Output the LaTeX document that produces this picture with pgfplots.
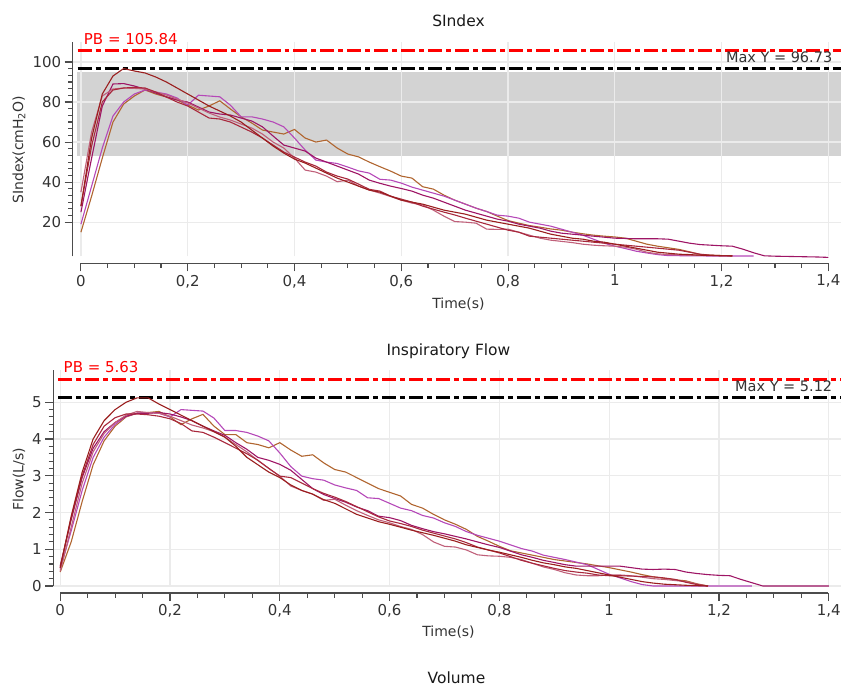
\documentclass[border=0pt]{standalone}
\usepackage{fontspec}
\setmainfont{DejaVu Sans}
\usepackage{pgfplots}
\pgfplotsset{compat=1.18}

\definecolor{cA}{HTML}{9A1E1E}
\definecolor{cB}{HTML}{B0652F}
\definecolor{cC}{HTML}{B548B8}
\definecolor{cD}{HTML}{9E1565}
\definecolor{cE}{HTML}{C0607A}
\definecolor{cF}{HTML}{A8283C}
\definecolor{band}{HTML}{D3D3D3}
\definecolor{txt}{HTML}{333333}

\pgfplotsset{
  panel/.style={
    set layers, scale only axis, anchor=south west, clip=false,
    axis x line=bottom, axis y line=left,
    axis x line shift=7pt,
    axis line style={draw=black!70, line width=1.2pt},
    y axis line style={-},
    tick align=outside,
    major tick length=8pt, minor tick length=4.5pt,
    every tick/.style={draw=black!70, line width=1.1pt},
    grid=major, major grid style={draw=black!8, line width=1.2pt},
    xtick={0,0.2,0.4,0.6,0.8,1,1.2,1.4}, minor x tick num=3,
    tick label style={font=\fontsize{15}{15}\selectfont, text=txt},
    /pgf/number format/.cd, use comma, 1000 sep={}, assume math mode=true,
    /pgfplots/.cd,
  },
  curve/.style={line width=1.1pt, no markers, #1},
  ref/.style={line width=3pt, dash pattern=on 14pt off 4pt on 5pt off 4pt, #1},
}

\begin{document}
\begin{tikzpicture}

% ---------------- SIndex ----------------
\begin{axis}[panel,
  at={(72.7pt,429.3pt)}, width=769.3pt, height=214.7pt,
  xmin=-0.0156, xmax=1.4237, ymin=2.9, ymax=110,
  ytick={20,40,60,80,100}, minor y tick num=5,
  x axis line style={-, shorten <=8.3pt, shorten >=12.7pt},
]
\addplot[draw=none, fill=band, on layer=axis background] coordinates {(-0.0075,53.2) (1.4237,53.2) (1.4237,95) (-0.0075,95)} -- cycle;
\addplot[ref=red] coordinates {(-0.006,105.84) (1.4237,105.84)};
\addplot[ref=black] coordinates {(-0.006,96.73) (1.4237,96.73)};

\addplot[curve=cB] coordinates {(0,15)(0.02,33)(0.04,52)(0.06,70)(0.08,79)(0.1,83)(0.12,86)(0.14,84)(0.16,82.5)(0.18,81)(0.2,78.5)(0.22,76)(0.24,78)(0.26,80.6)(0.28,76.5)(0.30,72.6)(0.32,69.5)(0.34,66)(0.36,65)(0.38,64)(0.40,66.3)(0.42,62)(0.44,60)(0.46,61)(0.48,57)(0.50,54)(0.52,52.6)(0.54,50)(0.56,47.7)(0.58,45.5)(0.60,43)(0.62,42)(0.64,37.7)(0.66,36.5)(0.68,33.5)(0.70,31)(0.72,29)(0.74,27)(0.76,25.3)(0.78,23)(0.80,20.8)(0.82,19.5)(0.84,18.3)(0.86,17.5)(0.88,16.6)(0.9,16)(0.92,15)(0.94,14.2)(0.96,13.5)(0.98,13)(1.0,12.6)(1.02,12)(1.04,10.5)(1.06,9)(1.08,8)(1.1,7.2)(1.12,6.4)(1.14,5.2)(1.16,3.8)(1.18,3.5)(1.2,3.3)(1.22,3.2)};
\addplot[curve=cC] coordinates {(0,19)(0.02,38)(0.04,57)(0.06,73)(0.08,80)(0.1,84)(0.12,86)(0.14,85)(0.16,84)(0.18,82)(0.2,78.4)(0.22,83.4)(0.24,83)(0.26,82.6)(0.28,78.4)(0.3,72.6)(0.32,72.6)(0.34,71.5)(0.36,70)(0.38,67.6)(0.4,62)(0.42,56)(0.44,51)(0.46,50)(0.48,49.3)(0.5,47.5)(0.52,45.6)(0.54,44.5)(0.56,41.4)(0.58,41)(0.6,39.5)(0.62,37.5)(0.64,36)(0.66,34.5)(0.68,33)(0.7,31)(0.72,29)(0.74,27)(0.76,25.3)(0.78,23.5)(0.8,23)(0.82,22)(0.84,20)(0.86,19)(0.88,18)(0.9,16.5)(0.92,15)(0.94,13.5)(0.96,11.5)(0.98,9.5)(1.0,8)(1.02,6.8)(1.04,5.5)(1.06,4.6)(1.08,3.8)(1.1,3.3)(1.14,3.2)(1.18,3.1)(1.22,3.1)(1.26,3.1)};
\addplot[curve=cD] coordinates {(0,25)(0.02,52)(0.04,78)(0.06,89)(0.08,89.2)(0.1,88)(0.12,86.4)(0.14,84.5)(0.16,82.6)(0.18,81)(0.2,80)(0.22,77.5)(0.24,75)(0.26,74)(0.28,73.5)(0.3,72)(0.32,70.5)(0.34,67.6)(0.36,63)(0.38,58.5)(0.4,57)(0.42,55.5)(0.44,52)(0.46,50)(0.48,48)(0.5,46)(0.52,44)(0.54,41)(0.56,39.4)(0.58,38)(0.6,36.8)(0.62,35.5)(0.64,33.5)(0.66,32)(0.68,30)(0.7,28)(0.72,26)(0.74,24.5)(0.76,23)(0.78,21.5)(0.8,20.5)(0.82,19)(0.84,18)(0.86,17)(0.88,15.5)(0.9,14.5)(0.92,14)(0.94,13.5)(0.96,13)(0.98,12.5)(1.0,12)(1.04,11.7)(1.08,11.7)(1.1,11.5)(1.12,10.5)(1.14,9.5)(1.16,8.8)(1.18,8.5)(1.2,8.2)(1.22,8)(1.24,6.5)(1.26,4.7)(1.28,3.2)(1.3,3)(1.34,2.8)(1.38,2.6)(1.4,2.4)};
\addplot[curve=cE] coordinates {(0,35)(0.02,65)(0.04,83)(0.06,86.5)(0.08,87)(0.1,86.8)(0.12,86.5)(0.14,85)(0.16,83.5)(0.18,81.5)(0.2,79.5)(0.22,77)(0.24,74.5)(0.26,72.5)(0.28,71)(0.3,69)(0.32,67)(0.34,64)(0.36,60)(0.38,57)(0.4,52)(0.42,46)(0.44,45)(0.46,43)(0.48,40.2)(0.5,41)(0.52,38)(0.54,36.1)(0.56,34.5)(0.58,32.8)(0.6,31)(0.62,29.5)(0.64,28.6)(0.66,26)(0.68,23)(0.7,20.3)(0.72,20)(0.74,19.5)(0.76,16.5)(0.78,16.4)(0.8,16.5)(0.82,15)(0.84,13.5)(0.86,12)(0.88,11)(0.9,10.4)(0.92,9.8)(0.94,9)(0.96,8.5)(0.98,8.2)(1.0,8)(1.02,7.5)(1.04,6.5)(1.06,5)(1.08,4.2)(1.1,3.8)(1.14,3.5)(1.18,3.3)(1.2,3.3)};
\addplot[curve=cF] coordinates {(0,28)(0.02,58)(0.04,80)(0.06,86)(0.08,87)(0.1,87.3)(0.12,87)(0.14,85)(0.16,82.5)(0.18,80)(0.2,78)(0.22,75)(0.24,72)(0.26,71.5)(0.28,70)(0.3,67.5)(0.32,65)(0.34,62)(0.36,58.5)(0.38,55)(0.4,52.5)(0.42,50)(0.44,48)(0.46,45)(0.48,43)(0.5,41.5)(0.52,39)(0.54,36.4)(0.56,35.5)(0.58,33)(0.6,31.5)(0.62,30)(0.64,28)(0.66,26.5)(0.68,25)(0.7,23.6)(0.72,22)(0.74,20.5)(0.76,19)(0.78,17.5)(0.8,16)(0.82,15)(0.84,13)(0.86,12.5)(0.88,12)(0.9,11.5)(0.92,11)(0.94,10.5)(0.96,10)(0.98,9.5)(1.0,9)(1.02,8.5)(1.04,8)(1.06,7.5)(1.08,7)(1.1,6.5)(1.12,6)(1.14,5)(1.16,4)(1.18,3.5)(1.2,3.3)(1.22,3.2)};
\addplot[curve=cA] coordinates {(0,28)(0.02,62)(0.04,84)(0.06,93)(0.08,96.7)(0.1,95.5)(0.12,94.5)(0.14,92.5)(0.16,90)(0.18,87)(0.2,84)(0.22,81)(0.24,78)(0.26,75.5)(0.28,73)(0.3,70)(0.32,66)(0.34,62)(0.36,58)(0.38,54.5)(0.4,51.5)(0.42,49.5)(0.44,47)(0.46,44.5)(0.48,42)(0.5,40)(0.52,38)(0.54,36)(0.56,35)(0.58,33)(0.6,31)(0.62,30)(0.64,29)(0.66,27.5)(0.68,26)(0.7,25)(0.72,24)(0.74,22.5)(0.76,21)(0.78,20)(0.8,19)(0.82,18)(0.84,17)(0.86,15.5)(0.88,14)(0.9,13)(0.92,12)(0.94,11.5)(0.96,10.5)(0.98,10)(1.0,9)(1.02,8)(1.04,7)(1.06,6)(1.08,5)(1.1,4.5)(1.12,4)(1.14,3.8)(1.16,3.5)(1.18,3.4)(1.2,3.2)(1.22,3.1)};

\node[anchor=base west, text=red, font=\fontsize{15}{15}\selectfont] at (axis cs:-0.001,108.7) {PB = 105.84};
\node[anchor=base east, text=txt, font=\fontsize{14.5}{14.5}\selectfont] at (axis cs:1.4138,99.5) {Max Y = 96.73};
\end{axis}

% ---------------- Inspiratory Flow ----------------
\begin{axis}[panel,
  at={(53.3pt,99.3pt)}, width=788.4pt, height=216pt,
  xmin=-0.0127, xmax=1.4218, ymin=0, ymax=5.87,
  ytick={0,1,2,3,4,5}, minor y tick num=4,
  x axis line style={-, shorten <=7pt, shorten >=12.4pt},
]
\addplot[ref=red] coordinates {(-0.0036,5.63) (1.4218,5.63)};
\addplot[ref=black] coordinates {(-0.0036,5.12) (1.4218,5.12)};

\addplot[curve=cB] coordinates {(0,0.38)(0.02,1.2)(0.04,2.3)(0.06,3.3)(0.08,3.95)(0.1,4.35)(0.12,4.6)(0.14,4.7)(0.16,4.72)(0.18,4.75)(0.2,4.6)(0.22,4.39)(0.24,4.55)(0.26,4.67)(0.28,4.35)(0.3,4.12)(0.32,4.12)(0.34,3.9)(0.36,3.85)(0.38,3.76)(0.4,3.9)(0.42,3.7)(0.44,3.53)(0.46,3.57)(0.48,3.35)(0.5,3.17)(0.52,3.1)(0.54,2.95)(0.56,2.8)(0.58,2.65)(0.6,2.55)(0.62,2.45)(0.64,2.22)(0.66,2.12)(0.68,1.95)(0.7,1.8)(0.72,1.68)(0.74,1.54)(0.76,1.35)(0.78,1.22)(0.8,1.08)(0.82,0.96)(0.84,0.9)(0.86,0.84)(0.88,0.78)(0.9,0.72)(0.92,0.68)(0.94,0.64)(0.96,0.6)(0.98,0.55)(1.0,0.5)(1.02,0.44)(1.04,0.38)(1.06,0.31)(1.08,0.25)(1.1,0.21)(1.12,0.17)(1.14,0.14)(1.16,0.06)(1.18,0)};
\addplot[curve=cC] coordinates {(0,0.45)(0.02,1.5)(0.04,2.6)(0.06,3.5)(0.08,4.05)(0.1,4.4)(0.12,4.62)(0.14,4.7)(0.16,4.72)(0.18,4.7)(0.2,4.6)(0.22,4.8)(0.24,4.78)(0.26,4.76)(0.28,4.57)(0.3,4.23)(0.32,4.23)(0.34,4.18)(0.36,4.08)(0.38,3.95)(0.4,3.62)(0.42,3.25)(0.44,2.99)(0.46,2.92)(0.48,2.88)(0.5,2.75)(0.52,2.67)(0.54,2.6)(0.56,2.4)(0.58,2.38)(0.6,2.25)(0.62,2.12)(0.64,2.05)(0.66,1.92)(0.68,1.85)(0.7,1.72)(0.72,1.62)(0.74,1.48)(0.76,1.38)(0.78,1.3)(0.8,1.22)(0.82,1.12)(0.84,1.02)(0.86,0.95)(0.88,0.84)(0.9,0.78)(0.92,0.72)(0.94,0.65)(0.96,0.58)(0.98,0.45)(1.0,0.32)(1.02,0.22)(1.04,0.12)(1.06,0.04)(1.08,0)(1.26,0)};
\addplot[curve=cD] coordinates {(0,0.55)(0.02,1.8)(0.04,2.95)(0.06,3.75)(0.08,4.2)(0.1,4.45)(0.12,4.62)(0.14,4.7)(0.16,4.7)(0.18,4.72)(0.2,4.68)(0.22,4.6)(0.24,4.5)(0.26,4.35)(0.28,4.22)(0.3,4.1)(0.32,3.9)(0.34,3.72)(0.36,3.5)(0.38,3.42)(0.4,3.31)(0.42,3.15)(0.44,2.9)(0.46,2.65)(0.48,2.49)(0.5,2.38)(0.52,2.28)(0.54,2.15)(0.56,2.05)(0.58,1.9)(0.6,1.86)(0.62,1.78)(0.64,1.65)(0.66,1.56)(0.68,1.48)(0.7,1.42)(0.72,1.35)(0.74,1.28)(0.76,1.2)(0.78,1.12)(0.8,1.05)(0.82,0.95)(0.84,0.85)(0.86,0.78)(0.88,0.7)(0.9,0.64)(0.92,0.58)(0.94,0.54)(0.96,0.54)(1.0,0.54)(1.02,0.54)(1.04,0.5)(1.06,0.46)(1.08,0.45)(1.1,0.46)(1.12,0.45)(1.14,0.38)(1.16,0.34)(1.18,0.31)(1.2,0.29)(1.22,0.28)(1.24,0.18)(1.26,0.09)(1.28,0)(1.4,0)};
\addplot[curve=cE] coordinates {(0,0.4)(0.02,1.6)(0.04,2.8)(0.06,3.65)(0.08,4.15)(0.1,4.45)(0.12,4.65)(0.14,4.75)(0.16,4.72)(0.18,4.7)(0.2,4.62)(0.22,4.5)(0.24,4.38)(0.26,4.3)(0.28,4.2)(0.3,4.05)(0.32,3.85)(0.34,3.65)(0.36,3.42)(0.38,3.2)(0.4,2.99)(0.42,2.72)(0.44,2.6)(0.46,2.5)(0.48,2.33)(0.5,2.36)(0.52,2.2)(0.54,2.05)(0.56,1.92)(0.58,1.8)(0.6,1.72)(0.62,1.62)(0.64,1.54)(0.66,1.4)(0.68,1.2)(0.7,1.08)(0.72,1.06)(0.74,0.98)(0.76,0.85)(0.78,0.82)(0.8,0.81)(0.82,0.78)(0.84,0.72)(0.86,0.62)(0.88,0.52)(0.9,0.45)(0.92,0.36)(0.94,0.3)(0.96,0.28)(0.98,0.28)(1.0,0.3)(1.02,0.3)(1.04,0.28)(1.06,0.24)(1.08,0.2)(1.1,0.18)(1.12,0.15)(1.14,0.12)(1.16,0.05)(1.18,0)};
\addplot[curve=cF] coordinates {(0,0.5)(0.02,1.85)(0.04,3.0)(0.06,3.85)(0.08,4.35)(0.1,4.58)(0.12,4.68)(0.14,4.68)(0.16,4.66)(0.18,4.62)(0.2,4.55)(0.22,4.42)(0.24,4.22)(0.26,4.18)(0.28,4.05)(0.3,3.9)(0.32,3.75)(0.34,3.6)(0.36,3.42)(0.38,3.2)(0.4,2.99)(0.42,2.95)(0.44,2.8)(0.46,2.65)(0.48,2.52)(0.5,2.42)(0.52,2.3)(0.54,2.16)(0.56,2.02)(0.58,1.88)(0.6,1.77)(0.62,1.7)(0.64,1.62)(0.66,1.52)(0.68,1.44)(0.7,1.36)(0.72,1.28)(0.74,1.18)(0.76,1.06)(0.78,0.98)(0.8,0.9)(0.82,0.8)(0.84,0.7)(0.86,0.62)(0.88,0.55)(0.9,0.48)(0.92,0.42)(0.94,0.38)(0.96,0.35)(0.98,0.3)(1.0,0.28)(1.02,0.28)(1.04,0.27)(1.06,0.26)(1.08,0.25)(1.1,0.22)(1.12,0.18)(1.14,0.1)(1.16,0.04)(1.18,0)};
\addplot[curve=cA] coordinates {(0,0.5)(0.02,1.9)(0.04,3.1)(0.06,4.0)(0.08,4.5)(0.1,4.8)(0.12,5.0)(0.14,5.12)(0.16,5.12)(0.18,4.95)(0.2,4.8)(0.22,4.65)(0.24,4.5)(0.26,4.35)(0.28,4.2)(0.3,4.05)(0.32,3.8)(0.34,3.5)(0.36,3.3)(0.38,3.1)(0.4,2.95)(0.42,2.75)(0.44,2.6)(0.46,2.5)(0.48,2.35)(0.5,2.25)(0.52,2.1)(0.54,1.95)(0.56,1.85)(0.58,1.75)(0.6,1.68)(0.62,1.6)(0.64,1.52)(0.66,1.45)(0.68,1.38)(0.7,1.3)(0.72,1.22)(0.74,1.12)(0.76,1.05)(0.78,0.98)(0.8,0.92)(0.82,0.85)(0.84,0.78)(0.86,0.7)(0.88,0.63)(0.9,0.58)(0.92,0.52)(0.94,0.48)(0.96,0.42)(0.98,0.36)(1.0,0.3)(1.02,0.24)(1.04,0.18)(1.06,0.12)(1.08,0.08)(1.1,0.05)(1.14,0.02)(1.18,0)};

\node[anchor=base west, text=red, font=\fontsize{15}{15}\selectfont] at (axis cs:0,5.8) {PB = 5.63};
\node[anchor=base east, text=txt, font=\fontsize{14.5}{14.5}\selectfont] at (axis cs:1.4127,5.3) {Max Y = 5.12};
\end{axis}

% titles and axis labels
\node[anchor=base, text=black!90, font=\fontsize{15.5}{15.5}\selectfont] at (459pt,659.3pt) {SIndex};
\node[anchor=base, text=black!90, font=\fontsize{15.5}{15.5}\selectfont] at (449pt,330pt) {Inspiratory Flow};
\node[anchor=base, text=black!90, font=\fontsize{15.5}{15.5}\selectfont] at (457pt,1.5pt) {Volume};
\node[anchor=base, text=txt, font=\fontsize{14}{14}\selectfont] at (459pt,377pt) {Time(s)};
\node[anchor=base, text=txt, font=\fontsize{14}{14}\selectfont] at (449pt,48.7pt) {Time(s)};
\node[rotate=90, text=txt, font=\fontsize{14}{14}\selectfont] at (19pt,536pt) {SIndex(cmH\textsubscript{2}O)};
\node[rotate=90, text=txt, font=\fontsize{14}{14}\selectfont] at (19pt,206pt) {Flow(L/s)};
\path (0,0) rectangle (844pt,686pt);
\end{tikzpicture}
\end{document}
